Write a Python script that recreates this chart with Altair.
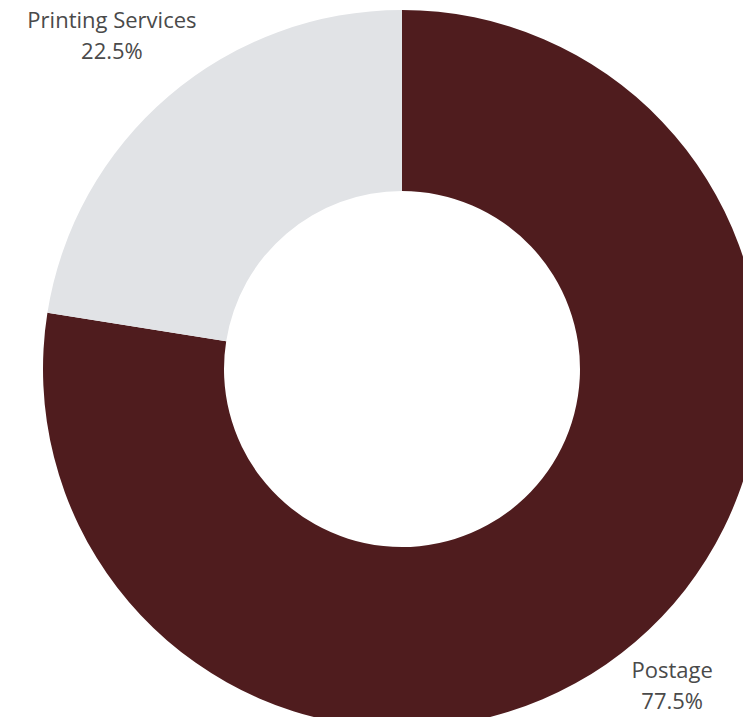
import altair as alt
import pandas as pd

categories = ["Postage", "Printing Services"]
values = [77.5, 22.5]
labels = ["Postage\n77.5%", "Printing Services\n22.5%"]
colors = ["#4f1c1e", "#e1e3e6"]

df = pd.DataFrame({
    "category": categories,
    "value": values,
    "label": labels,
    "order": list(range(len(categories))),
})

CX, CY = 394, 361

base = alt.Chart(df).encode(
    theta=alt.Theta("value:Q", stack=True),
    order=alt.Order("order:Q"),
)

arcs = base.mark_arc(outerRadius=359, innerRadius=178, stroke=None).encode(
    color=alt.Color("category:N", scale=alt.Scale(domain=categories, range=colors), legend=None),
    x=alt.value(CX),
    y=alt.value(CY),
)

def text_layer(cat, r, dx, dy):
    return base.mark_text(
        font="Open Sans", fontSize=22, color="#4a4a4a",
        align="center", baseline="middle", lineBreak="\n", lineHeight=31,
        dx=dx, dy=dy,
    ).encode(
        text="label:N",
        radius=alt.value(r),
        x=alt.value(CX),
        y=alt.value(CY),
        opacity=alt.condition(alt.datum.category == cat, alt.value(1), alt.value(0)),
    )

chart = alt.layer(
    arcs,
    text_layer("Printing Services", 442, -3, -12),
    text_layer("Postage", 416, 0, -14),
).properties(
    width=735, height=709, padding=0,
    autosize=alt.AutoSizeParams(type="none"),
).configure_view(stroke=None)

chart.save("out.html", embed_options={"renderer": "svg", "actions": False})
